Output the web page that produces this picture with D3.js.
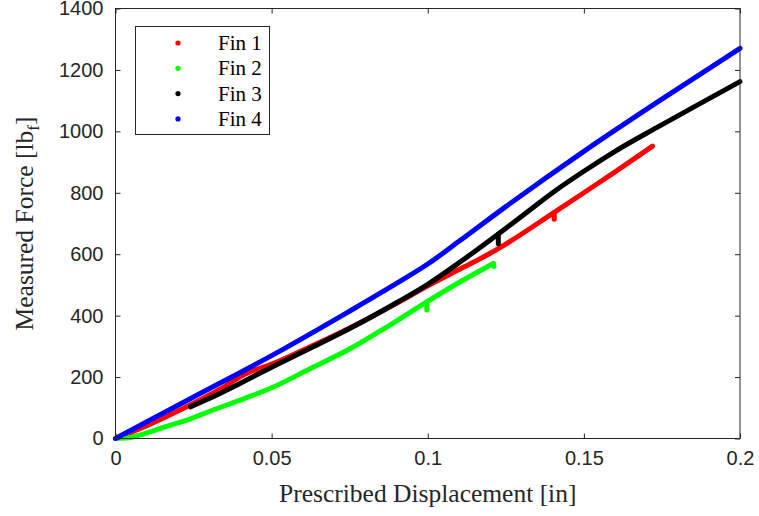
<!DOCTYPE html>
<html>
<head>
<meta charset="utf-8">
<script src="https://cdn.jsdelivr.net/npm/d3@7"></script>
<style>
  body { margin: 0; background: #fff; }
  svg { display: block; }
</style>
</head>
<body>
<svg id="chart" width="759" height="516"></svg>
<script>
// ---- data (displacement [in], force [lbf]) ----
const seriesNames = ["Fin 1", "Fin 2", "Fin 3", "Fin 4"];
const seriesColors = ["#ff0000", "#00ff00", "#000000", "#0000ff"];

const fin1X = [0, 0.01, 0.024, 0.035, 0.041, 0.046, 0.05, 0.062, 0.075, 0.09, 0.1, 0.11, 0.12, 0.125, 0.1405, 0.15, 0.16, 0.172];
const fin1Y = [0, 42, 110, 170, 207, 228, 242, 297, 360, 440, 497, 550, 603, 633, 736, 800, 868, 952];
const fin1DropX = [0.1405, 0.1405];
const fin1DropY = [736, 714];

const fin2X = [0, 0.004, 0.008, 0.015, 0.024, 0.03, 0.041, 0.05, 0.0623, 0.0751, 0.0875, 0.0997, 0.11, 0.121];
const fin2Y = [0, 2, 12, 35, 64, 88, 129, 165, 227, 292, 367, 445, 508, 570];
const fin2DropX = [0.0997, 0.0997, 0.121, 0.1212];
const fin2DropY = [445, 418, 570, 560];

const fin3X = [0.024, 0.03, 0.04, 0.05, 0.062, 0.075, 0.09, 0.1, 0.11, 0.1226, 0.13, 0.1413, 0.15, 0.16, 0.1733, 0.185, 0.2];
const fin3Y = [103, 130, 180, 232, 292, 358, 442, 502, 572, 666, 723, 810, 870, 935, 1012, 1078, 1162];
const fin3DropX = [0.1226, 0.1226];
const fin3DropY = [666, 634];

const fin4X = [0, 0.025, 0.05, 0.075, 0.09, 0.1, 0.11, 0.125, 0.15, 0.175, 0.2];
const fin4Y = [0, 135, 270, 415, 505, 568, 642, 755, 935, 1105, 1270];

const xTicks = [0, 0.05, 0.1, 0.15, 0.2];
const xTickLabels = ["0", "0.05", "0.1", "0.15", "0.2"];
const yTicks = [0, 200, 400, 600, 800, 1000, 1200, 1400];

const allX = [fin1X, fin2X, fin3X, fin4X];
const allY = [fin1Y, fin2Y, fin3Y, fin4Y];
const dropX = [fin1DropX, fin2DropX, fin3DropX, []];
const dropY = [fin1DropY, fin2DropY, fin3DropY, []];

// ---- layout ----
const svg = d3.select("#chart");
const plotL = 115.5, plotR = 740, plotT = 8.5, plotB = 438.5;
const axisColor = "#262626";

const x = d3.scaleLinear().domain([0, 0.2]).range([plotL, plotR]);
const y = d3.scaleLinear().domain([0, 1400]).range([plotB, plotT]);

// series
const line = d3.line().x(d => x(d[0])).y(d => y(d[1])).curve(d3.curveMonotoneX);
const seg = d3.line().x(d => x(d[0])).y(d => y(d[1]));
const gLines = svg.append("g");
allX.forEach((xs, i) => {
  const pts = xs.map((v, j) => [v, allY[i][j]]);
  const g = gLines.append("g")
    .attr("fill", "none")
    .attr("stroke", seriesColors[i])
    .attr("stroke-width", 5)
    .attr("stroke-linejoin", "round")
    .attr("stroke-linecap", "round");
  g.append("path").attr("d", line(pts));
  for (let k = 0; k < dropX[i].length; k += 2) {
    g.append("path").attr("d", seg([[dropX[i][k], dropY[i][k]], [dropX[i][k + 1], dropY[i][k + 1]]]));
  }
});

// axes
const xAxis = d3.axisBottom(x).tickValues(xTicks).tickFormat((d, i) => xTickLabels[i]).tickSize(-5).tickPadding(12);
const yAxis = d3.axisLeft(y).tickValues(yTicks).tickFormat(d3.format("d")).tickSize(-5).tickPadding(12);
const xTop = d3.axisTop(x).tickValues(xTicks).tickFormat("").tickSize(-5);
const yRight = d3.axisRight(y).tickValues(yTicks).tickFormat("").tickSize(-5);

function styleAxis(g) {
  g.selectAll("path.domain").remove();
  g.selectAll(".tick line").attr("stroke", axisColor).attr("stroke-width", 1);
  g.selectAll(".tick text").attr("fill", axisColor)
    .style("font-family", "'Liberation Sans', Arial, sans-serif").style("font-size", "20px");
}
svg.append("g").attr("transform", `translate(0,${plotB})`).call(xAxis).call(styleAxis);
svg.append("g").attr("transform", `translate(${plotL},0)`).call(yAxis).call(styleAxis);
svg.append("g").attr("transform", `translate(0,${plotT})`).call(xTop).call(styleAxis);
svg.append("g").attr("transform", `translate(${plotR},0)`).call(yRight).call(styleAxis);
svg.append("rect").attr("x", plotL).attr("y", plotT).attr("width", plotR - plotL).attr("height", plotB - plotT)
  .attr("fill", "none").attr("stroke", axisColor).attr("stroke-width", 1);

// axis labels
svg.append("text")
  .attr("x", (plotL + plotR) / 2).attr("y", 502)
  .attr("text-anchor", "middle")
  .attr("fill", axisColor)
  .style("font-family", "'Liberation Serif', 'Times New Roman', serif").style("font-size", "25.5px")
  .text("Prescribed Displacement [in]");

const yl = svg.append("text")
  .attr("transform", `translate(33,${(plotT + plotB) / 2}) rotate(-90)`)
  .attr("text-anchor", "middle")
  .attr("fill", axisColor)
  .style("font-family", "'Liberation Serif', 'Times New Roman', serif").style("font-size", "25.5px");
yl.append("tspan").text("Measured Force [lb");
yl.append("tspan").attr("dy", 6).style("font-size", "17px").text("f");
yl.append("tspan").attr("dy", -6).text("]");

// legend
const lg = svg.append("g");
lg.append("rect").attr("x", 135.5).attr("y", 26.5).attr("width", 134).attr("height", 108)
  .attr("fill", "#fff").attr("stroke", axisColor).attr("stroke-width", 1);
seriesNames.forEach((name, i) => {
  const cy = 43 + i * 25.3;
  lg.append("circle").attr("cx", 178).attr("cy", cy).attr("r", 2.6).attr("fill", seriesColors[i]);
  lg.append("text").attr("x", 218).attr("y", cy + 7)
    .attr("fill", "#000")
    .style("font-family", "'Liberation Serif', 'Times New Roman', serif").style("font-size", "21px")
    .text(name);
});
</script>
</body>
</html>
